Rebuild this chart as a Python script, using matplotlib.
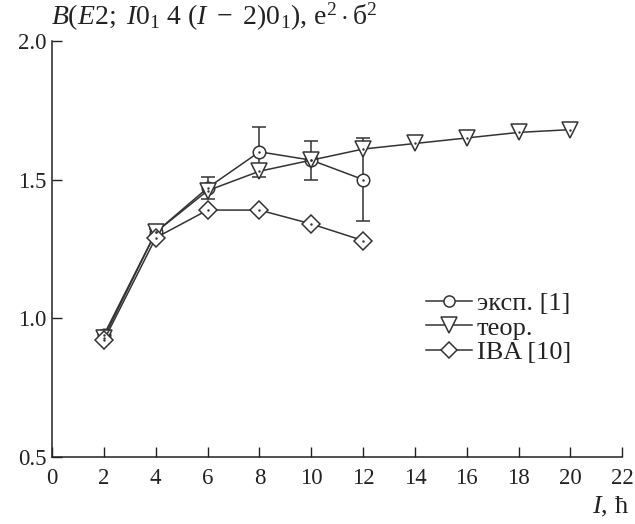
import numpy as np
import matplotlib
matplotlib.use("Agg")
import matplotlib.pyplot as plt
from matplotlib.lines import Line2D

plt.rcParams["font.family"] = "serif"
plt.rcParams["font.serif"] = ["Liberation Serif", "DejaVu Serif"]
plt.rcParams["mathtext.fontset"] = "custom"
plt.rcParams["mathtext.rm"] = "Liberation Serif"
plt.rcParams["mathtext.it"] = "Liberation Serif:italic"

# data
spin_exp = [2, 4, 6, 8, 10, 12]
b_exp = [0.94, 1.31, 1.47, 1.60, 1.57, 1.50]
b_exp_err = [0.01, 0.01, 0.04, 0.09, 0.07, 0.15]

spin_th = [2, 4, 6, 8, 10, 12, 14, 16, 18, 20]
b_th = [0.93, 1.31, 1.46, 1.53, 1.57, 1.61, 1.63, 1.65, 1.67, 1.68]

spin_iba = [2, 4, 6, 8, 10, 12]
b_iba = [0.92, 1.29, 1.39, 1.39, 1.34, 1.28]

xticks = list(range(0, 23, 2))
yticks = [0.5, 1.0, 1.5, 2.0]

fig = plt.figure(figsize=(6.35, 5.24), dpi=100)
ax = fig.add_axes([0.082, 0.128, 0.898, 0.794])

lc = "#333333"
sty_exp = dict(color=lc, lw=1.1, marker="o", ms=9, mfc="white", mec=lc, mew=1.1)
sty_th = dict(color=lc, lw=1.1, marker="v", ms=12, mfc="white", mec=lc, mew=1.1)
sty_iba = dict(color=lc, lw=1.1, marker="D", ms=9, mfc="white", mec=lc, mew=1.1)

ax.errorbar(spin_exp, b_exp, yerr=b_exp_err, capsize=5, elinewidth=1.1, zorder=3, **sty_exp)
ax.plot(spin_th, b_th, zorder=4, **sty_th)
ax.plot(spin_iba, b_iba, zorder=5, **sty_iba)
# little dots in marker centres
ax.plot(spin_exp, b_exp, ls="none", marker=".", ms=1.5, color=lc, zorder=6)
ax.plot(spin_th, b_th, ls="none", marker=".", ms=1.5, color=lc, zorder=6)
ax.plot(spin_iba, b_iba, ls="none", marker=".", ms=1.5, color=lc, zorder=6)

ax.set_xlim(0, 22)
ax.set_ylim(0.5, 2.0)
ax.set_xticks(xticks)
ax.set_yticks(yticks)
ax.set_yticklabels(["0.5", "1.0", "1.5", "2.0"])
ax.tick_params(direction="in", length=7, width=1, labelsize=16.5, colors="#222222")
ax.tick_params(axis="x", pad=8)
ax.tick_params(axis="y", pad=4)
for lab in ax.get_xticklabels() + ax.get_yticklabels():
    lab.set_family("Liberation Serif")
ax.spines["top"].set_visible(False)
ax.spines["right"].set_visible(False)
for s in ["left", "bottom"]:
    ax.spines[s].set_linewidth(1.1)
    ax.spines[s].set_color("#222222")

fig.text(0.080, 0.968, r"$B(E2;\ I0_1\ 4\ (I\ -\ 2)0_1)$, e$^2\cdot$б$^2$",
         fontsize=20, ha="left", va="center", color="#222222", family="Liberation Serif")
fig.text(0.99, 0.01, r"$I$, ħ", fontsize=19, ha="right", va="bottom", color="#222222",
         family="Liberation Serif")

handles = [Line2D([], [], **dict(sty_exp, ms=8)),
           Line2D([], [], **dict(sty_th, ms=11)),
           Line2D([], [], **dict(sty_iba, ms=8))]
labels = ["эксп. [1]", "теор.", "IBA [10]"]
leg = ax.legend(handles, labels, loc="center left", bbox_to_anchor=(0.655, 0.31),
                frameon=False, prop={"family": "Liberation Serif", "size": 19},
                handlelength=1.75, handletextpad=0.2,
                labelspacing=0.05, borderaxespad=0, borderpad=0)
for t in leg.get_texts():
    t.set_color("#222222")

fig.savefig("out.png", dpi=100)
